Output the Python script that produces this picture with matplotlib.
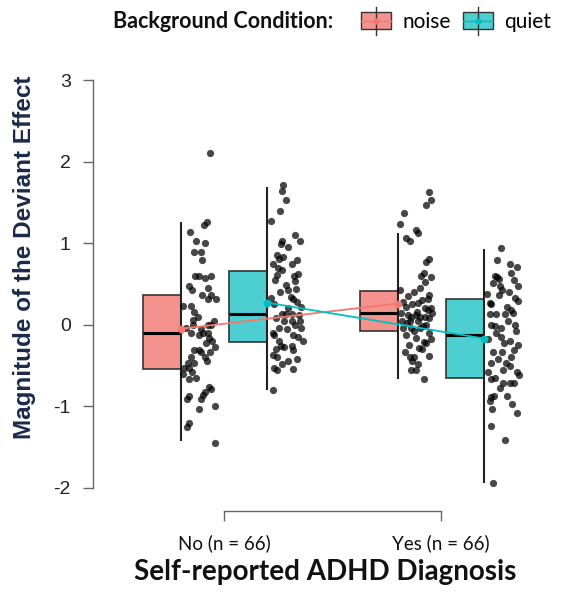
import matplotlib
matplotlib.use("Agg")
import matplotlib.pyplot as plt
import numpy as np
from matplotlib.legend_handler import HandlerBase
from matplotlib.patches import Rectangle, Patch
from matplotlib.lines import Line2D

# groups and conditions
groups = ["No (n = 66)", "Yes (n = 66)"]
conditions = ["noise", "quiet"]

# box stats: [No, Yes]
q1 = {"noise": [-0.54, -0.08], "quiet": [-0.21, -0.65]}
med = {"noise": [-0.10, 0.15], "quiet": [0.13, -0.12]}
q3 = {"noise": [0.37, 0.41], "quiet": [0.66, 0.32]}
whislo = {"noise": [-1.43, -0.66], "quiet": [-0.80, -1.94]}
whishi = {"noise": [1.26, 1.13], "quiet": [1.69, 0.93]}
means = {"noise": [-0.05, 0.26], "quiet": [0.27, -0.17]}

# individual points (value, jitter in pixels to the right of the whisker)
no_noise = [2.11, 1.26, 1.23, 1.14, 1.03, 1.00, 0.89, 0.89, 0.80, 0.60, 0.60, 0.57, 0.60,
            0.47, 0.43, 0.37, 0.37, 0.23, 0.23, 0.31, 0.31, 0.16, 0.06, 0.00, 0.00, 0.00,
            -0.04, -0.10, -0.13, -0.10, -0.10, -0.16, -0.22, -0.27, -0.31, -0.31, -0.34,
            -0.34, -0.39, -0.44, -0.47, -0.47, -0.53, -0.53, -0.58, -0.60, -0.66, -0.76,
            -0.79, -0.82, -0.86, -0.88, -0.91, -0.91, -1.00, -1.03, -1.20, -1.26, -1.45,
            0.10, -0.20, -0.05, 0.45, -0.65, 0.05, -0.40]
no_noise_jit = [29, 26, 23, 9, 15, 24, 13, 20, 21, 14, 18, 24, 30, 8, 11, 21, 30, 2, 10, 27,
                35, 13, 12, 12, 27, 30, 5, 10, 18, 22, 27, 28, 25, 34, 13, 18, 20, 29, 10, 26,
                7, 13, 3, 8, 11, 2, 8, 28, 30, 24, 22, 8, 6, 20, 34, 18, 8, 6, 34,
                17, 31, 20, 27, 15, 33, 24]

no_quiet = [1.72, 1.64, 1.53, 1.40, 1.27, 1.03, 0.99, 1.03, 0.85, 0.81, 0.83, 0.80, 0.74,
            0.70, 0.67, 0.61, 0.60, 0.54, 0.49, 0.43, 0.44, 0.34, 0.32, 0.33, 0.28, 0.25,
            0.13, 0.13, 0.13, 0.12, 0.04, 0.04, 0.05, -0.04, -0.04, -0.10, -0.12, -0.13,
            -0.20, -0.20, -0.26, -0.27, -0.26, -0.31, -0.37, -0.40, -0.45, -0.53, -0.56,
            -0.54, -0.80, 1.10, 0.95, 0.75, 0.55, 0.40, 0.20, 0.08, 0.00, -0.05, -0.15,
            -0.30, -0.42, -0.48, 0.62, 0.22]
no_quiet_jit = [16, 15, 19, 13, 4, 15, 14, 33, 10, 12, 16, 30, 6, 11, 15, 10, 27, 28, 19,
                21, 29, 24, 26, 4, 30, 7, 15, 19, 25, 32, 17, 25, 33, 12, 34, 6, 7, 26, 12,
                36, 14, 17, 25, 26, 6, 10, 21, 7, 10, 26, 6, 28, 21, 25, 8, 13, 21, 9, 28,
                20, 31, 9, 30, 15, 31, 34]

yes_noise = [1.63, 1.53, 1.47, 1.37, 1.24, 1.16, 1.13, 1.07, 1.03, 0.81, 0.77, 0.64, 0.60,
             0.59, 0.53, 0.43, 0.40, 0.37, 0.32, 0.28, 0.27, 0.22, 0.21, 0.18, 0.16, 0.15,
             0.15, 0.12, 0.10, 0.10, 0.09, 0.04, 0.05, 0.04, 0.00, -0.04, -0.04, -0.04,
             -0.10, -0.16, -0.21, -0.23, -0.28, -0.33, -0.38, -0.40, -0.40, -0.44, -0.56,
             -0.56, -0.67, 0.30, 0.25, 0.20, 0.12, 0.08, 0.02, -0.02, -0.08, -0.12, -0.18,
             -0.25, 0.35, 0.45, -0.30, -0.48]
yes_noise_jit = [31, 33, 28, 6, 2, 18, 20, 8, 12, 31, 28, 26, 23, 33, 27, 2, 16, 31, 30, 5,
                 20, 8, 27, 30, 19, 34, 3, 10, 13, 27, 22, 4, 12, 20, 28, 5, 13, 22, 31, 18,
                 26, 28, 21, 7, 31, 12, 16, 14, 13, 18, 26, 24, 14, 33, 18, 31, 9, 25, 16, 8,
                 33, 11, 10, 22, 24, 20]

yes_quiet = [0.94, 0.74, 0.71, 0.64, 0.60, 0.59, 0.56, 0.51, 0.47, 0.47, 0.43, 0.38, 0.37,
             0.29, 0.27, 0.25, 0.22, 0.18, 0.13, 0.13, 0.13, 0.15, 0.00, -0.02, -0.04, 0.00,
             -0.18, -0.15, -0.23, -0.33, -0.34, -0.31, -0.39, -0.47, -0.47, -0.51, -0.58,
             -0.58, -0.66, -0.65, -0.71, -0.71, -0.71, -0.87, -0.89, -0.94, -0.87, -0.97,
             -1.04, -1.08, -1.24, -1.41, -1.94, 0.80, 0.55, 0.40, 0.33, 0.05, -0.08, -0.10,
             -0.20, -0.25, -0.42, -0.55, -0.62, -0.78]
yes_quiet_jit = [17, 26, 33, 27, 11, 13, 15, 9, 16, 34, 18, 3, 15, 34, 6, 7, 23, 27, 6, 12,
                 21, 29, 7, 11, 17, 31, 4, 17, 20, 9, 18, 30, 27, 7, 22, 26, 4, 33, 7, 11,
                 19, 26, 30, 10, 7, 6, 23, 28, 8, 33, 7, 21, 9, 13, 30, 25, 31, 24, 32, 12,
                 26, 34, 14, 19, 35, 16]

points = {"noise": [(no_noise, no_noise_jit), (yes_noise, yes_noise_jit)],
          "quiet": [(no_quiet, no_quiet_jit), (yes_quiet, yes_quiet_jit)]}

fill = {"noise": "#F4938D", "quiet": "#4DCFD2"}
line_col = {"noise": "#F8766D", "quiet": "#00BFC4"}
dodge = {"noise": -0.2, "quiet": 0.2}
box_w = 0.175
px = 1 / 217.0

fig = plt.figure(figsize=(5.67, 5.92), dpi=100)
ax = fig.add_axes([93 / 567, 1 - 504 / 592, (540 - 93) / 567, (504 - 64) / 592])

xpos = np.arange(1, len(groups) + 1)
for c in conditions:
    xs = xpos + dodge[c]
    lo = np.array(q1[c])
    hi = np.array(q3[c])
    ax.bar(xs - box_w / 2, hi - lo, bottom=lo, width=box_w, color=fill[c],
           edgecolor="#333333", linewidth=1.2, zorder=2)
    ax.hlines(med[c], xs - box_w, xs, color="black", linewidth=2.2, zorder=3)
    ax.vlines(xs, whislo[c], whishi[c], color="#222222", linewidth=1.5, zorder=3)
    for i, (vals, jit) in enumerate(points[c]):
        ax.scatter(xs[i] + np.array(jit) * px, vals, s=27, color="black",
                   alpha=0.72, linewidths=0, zorder=4)

for c in conditions:
    xs = xpos + dodge[c]
    ax.plot(xs, means[c], color=line_col[c], linewidth=1.3, marker="o",
            markersize=4.5, zorder=5)

for s in ["top", "right"]:
    ax.spines[s].set_visible(False)
ax.spines["bottom"].set_position(("outward", 5))
ax.spines["left"].set_bounds(-2, 3)
ax.spines["bottom"].set_bounds(1, 2)
for s in ["left", "bottom"]:
    ax.spines[s].set_color("#666666")
    ax.spines[s].set_linewidth(1)

ax.set_xlim(1 - (224 - 93) * px, 2 + (540 - 441) * px)
ax.set_ylim(-2.2, 3.2)
ax.set_yticks([-2, -1, 0, 1, 2, 3])
ax.set_yticklabels(["-2", "-1", "0", "1", "2", "3"], family="Liberation Sans",
                   fontsize=14, color="#222222")
ax.set_xticks(xpos)
ax.set_xticklabels(groups, family="Lato", fontsize=13.5, color="#111111")
ax.tick_params(axis="y", length=7, width=1, color="#666666", pad=9)
ax.tick_params(axis="x", length=7, width=1, color="#666666", pad=10)

fig.text(25 / 567, 1 - 257 / 592, "Magnitude of the Deviant Effect", rotation=90,
         ha="center", va="center", family="Liberation Sans", fontweight="bold",
         fontsize=17.5, color="#1B2A4A")
fig.text(325 / 567, 1 - 572 / 592, "Self-reported ADHD Diagnosis", ha="center",
         va="center", family="Lato", fontweight="bold", fontsize=20, color="#111111")


class BoxKey(HandlerBase):
    def create_artists(self, legend, orig_handle, xdescent, ydescent, width, height,
                       fontsize, trans):
        fc = orig_handle.get_facecolor()
        x0, y0 = -xdescent, -ydescent
        cx, cy = x0 + width / 2, y0 + height / 2
        rect = Rectangle((x0, y0), width, height, facecolor=fc, edgecolor="#333333",
                         linewidth=1.0, transform=trans)
        wl = Line2D([cx, cx], [y0 - height * 0.3, y0 + height * 1.3], color="#333333",
                    linewidth=1.0, transform=trans)
        ml = Line2D([x0, x0 + width], [cy, cy], color=orig_handle.line_color,
                    linewidth=1.0, transform=trans)
        pt = Line2D([cx], [cy], marker="o", markersize=3.5, color=orig_handle.line_color,
                    transform=trans)
        return [rect, wl, ml, pt]


handles = []
for c in conditions:
    p = Patch(facecolor=fill[c], label=c)
    p.line_color = line_col[c]
    handles.append(p)

fig.text(333 / 567, 1 - 22 / 592, "Background Condition:", ha="right", va="center",
         family="Lato", fontweight="bold", fontsize=15.5, color="#111111")
leg = fig.legend(handles=handles, handler_map={Patch: BoxKey()}, ncol=2,
                 loc="center left", bbox_to_anchor=(361 / 567, 1 - 22 / 592),
                 frameon=False, borderpad=0, borderaxespad=0, handlelength=1.45,
                 handleheight=0.9, handletextpad=0.55, columnspacing=0.55,
                 prop={"family": "Lato", "size": 15})

fig.savefig("out.png", dpi=100)
